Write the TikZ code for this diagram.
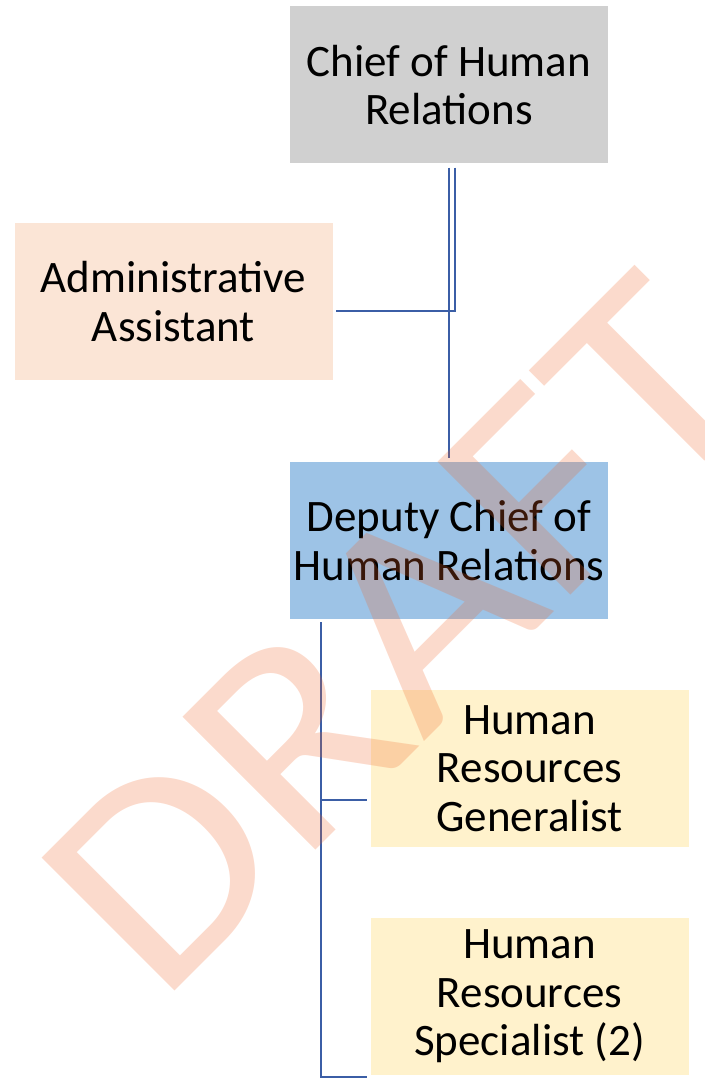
\documentclass[tikz,border=0pt]{standalone}
\usepackage{fontspec}
\setmainfont{Carlito}
\usetikzlibrary{calc}

\definecolor{chiefgray}{RGB}{208,208,208}
\definecolor{adminpeach}{RGB}{251,229,214}
\definecolor{deputyblue}{RGB}{157,195,230}
\definecolor{staffyellow}{RGB}{255,242,204}
\definecolor{linkblue}{RGB}{59,94,166}
\definecolor{draftorange}{RGB}{240,100,40}

\begin{document}
\begin{tikzpicture}[x=1pt, y=-1pt,
    post/.style={minimum width=318pt, minimum height=157pt, inner sep=0pt,
        align=center, font=\fontsize{45}{48.5}\selectfont},
    link/.style={draw=linkblue, line width=2.6pt}]

    % =================================================================
    % 1. KHUNG HÌNH
    % =================================================================
    \useasboundingbox (0,0) rectangle (704,1078);

    % =================================================================
    % 2. CÁC Ô CHỨC DANH
    % =================================================================
    \node[post, fill=chiefgray] (chief) at (449,85) {Chief of Human\\Relations};
    \node[post, fill=adminpeach] (admin) at (173.5,301.5) {Administrative\\Assistant};
    \node[post, fill=deputyblue] (deputy) at (449,540.5) {Deputy Chief of\\Human Relations};
    \node[post, fill=staffyellow] (generalist) at (529.5,768.5) {Human\\Resources\\Generalist};
    \node[post, fill=staffyellow] (specialist) at (529.5,996.5) {Human\\Resources\\Specialist (2)};

    % =================================================================
    % 3. ĐƯỜNG NỐI
    % =================================================================
    \draw[link, shorten <=4pt, shorten >=4pt] (chief) -- (deputy);
    \draw[link, shorten <=4pt, shorten >=3pt] ([xshift=6pt]chief.south) |- ([yshift=-9.5pt]admin.east);

    \coordinate (trunk) at ([xshift=31pt, yshift=-3pt]deputy.south west);
    \draw[link] (trunk) |- ([xshift=-3pt, yshift=-31.5pt]generalist.west);
    \draw[link] (trunk) |- ([xshift=-3pt, yshift=-2pt]specialist.south west);

    % =================================================================
    % 4. DẤU CHÌM "DRAFT"
    % =================================================================
    \node[anchor=base, rotate=45, xscale=1.1, inner sep=0pt, text=draftorange, text opacity=0.24,
        font=\fontsize{293}{300}\selectfont] (draft) at (465,701) {DRAFT};

\end{tikzpicture}
\end{document}
